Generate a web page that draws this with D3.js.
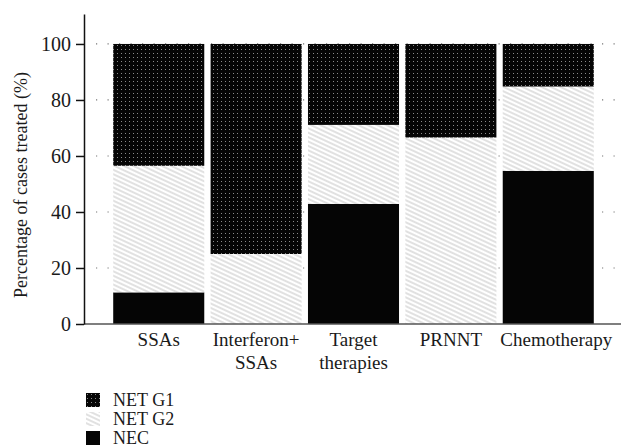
<!DOCTYPE html>
<html>
<head>
<meta charset="utf-8">
<script src="https://cdn.jsdelivr.net/npm/d3@7"></script>
<style>
  body { margin: 0; background: #fff; }
  svg text { font-family: "Liberation Serif", "DejaVu Serif", "Times New Roman", serif !important; fill: #1a1a1a; }
</style>
</head>
<body>
<div id="chart"></div>
<script>
// categories and stacked values (% of cases)
const treatments = ["SSAs", "Interferon+\nSSAs", "Target\ntherapies", "PRNNT", "Chemotherapy"];
const nec   = [11.3, 0, 42.9, 0, 54.7];
const netG2 = [45.2, 25, 28.2, 66.6, 30.1];
const netG1 = [43.5, 75, 28.9, 33.4, 15.2];
const yTicks = [0, 20, 40, 60, 80, 100];
const seriesNames = ["NET G1", "NET G2", "NEC"];

const W = 625, H = 448;
const svg = d3.select("#chart").append("svg")
    .attr("width", W).attr("height", H)
    .style("font-family", "'Liberation Serif', serif");

// fill patterns
const defs = svg.append("defs");
const dots = defs.append("pattern")
    .attr("id", "dots").attr("patternUnits", "userSpaceOnUse")
    .attr("width", 4).attr("height", 4);
dots.append("rect").attr("width", 4).attr("height", 4).attr("fill", "#050505");
dots.append("rect").attr("x", 1).attr("y", 1).attr("width", 1).attr("height", 1).attr("fill", "#8a8a8a");

const hatch = defs.append("pattern")
    .attr("id", "hatch").attr("patternUnits", "userSpaceOnUse")
    .attr("width", 10).attr("height", 4)
    .attr("patternTransform", "rotate(25)");
hatch.append("rect").attr("width", 10).attr("height", 4).attr("fill", "#fff");
hatch.append("line").attr("x1", 0).attr("x2", 10).attr("y1", 2).attr("y2", 2)
    .attr("stroke", "#9a9a9a").attr("stroke-width", 0.6);

const fills = { "NET G1": "url(#dots)", "NET G2": "url(#hatch)", "NEC": "#050505" };

// scales
const x = d3.scaleBand()
    .domain(treatments)
    .range([84, 623])
    .paddingInner(0.065)
    .paddingOuter(0.3);

const y = d3.scaleLinear()
    .domain([0, 110.7])
    .range([324, 14]);

// dotted gridlines
svg.append("g")
  .selectAll("line")
  .data(yTicks.slice(1))
  .join("line")
    .attr("x1", 96).attr("x2", 623)
    .attr("y1", d => y(d)).attr("y2", d => y(d))
    .attr("stroke", "#777")
    .attr("stroke-width", 1.2)
    .attr("stroke-dasharray", "1.2,10.3");

// stacked data
const table = treatments.map((t, i) => ({ name: t, "NEC": nec[i], "NET G2": netG2[i], "NET G1": netG1[i] }));
const stack = d3.stack().keys(["NEC", "NET G2", "NET G1"])(table);

svg.append("g")
  .selectAll("g")
  .data(stack)
  .join("g")
    .attr("fill", d => fills[d.key])
  .selectAll("rect")
  .data(d => d)
  .join("rect")
    .attr("x", d => x(d.data.name))
    .attr("width", x.bandwidth())
    .attr("y", d => y(d[1]))
    .attr("height", d => y(d[0]) - y(d[1]));

// baseline
svg.append("line")
    .attr("x1", 84).attr("x2", 621)
    .attr("y1", y(0)).attr("y2", y(0))
    .attr("stroke", "#555").attr("stroke-width", 1.5);

// y axis
const yAxis = svg.append("g")
    .attr("transform", "translate(84,0)")
    .call(d3.axisLeft(y).tickValues(yTicks).tickSize(8).tickPadding(5).tickSizeOuter(0));
yAxis.attr("font-family", null);
yAxis.select(".domain").attr("stroke", "#111").attr("stroke-width", 1.5);
yAxis.selectAll(".tick line").attr("stroke", "#111").attr("stroke-width", 1.5);
yAxis.selectAll(".tick text")
    .style("font-size", "20px")
    .attr("fill", "#1a1a1a");

// y title
svg.append("text")
    .attr("transform", `translate(27, ${y(50) + 1}) rotate(-90)`)
    .attr("text-anchor", "middle")
    .style("font-size", "18px")
    .text("Percentage of cases treated (%)");

// x labels
const xl = svg.append("g")
  .selectAll("text")
  .data(treatments)
  .join("text")
    .attr("text-anchor", "middle")
    .style("font-size", "19px")
    .attr("x", (d, i) => x(d) + x.bandwidth() / 2 + (i === 4 ? 8 : 0))
    .attr("y", 346);
xl.selectAll("tspan")
  .data(d => d.split("\n"))
  .join("tspan")
    .attr("x", function() { return d3.select(this.parentNode).attr("x"); })
    .attr("dy", (d, i) => i === 0 ? 0 : 23)
    .text(d => d);

// legend
const lg = svg.append("g")
  .selectAll("g")
  .data(seriesNames)
  .join("g")
    .attr("transform", (d, i) => `translate(86, ${393 + i * 19})`);
lg.append("rect")
    .attr("width", 14).attr("height", 14)
    .attr("fill", d => fills[d]);
lg.append("text")
    .attr("x", 27).attr("y", 13)
    .style("font-size", "18px")
    .text(d => d);
</script>
</body>
</html>
